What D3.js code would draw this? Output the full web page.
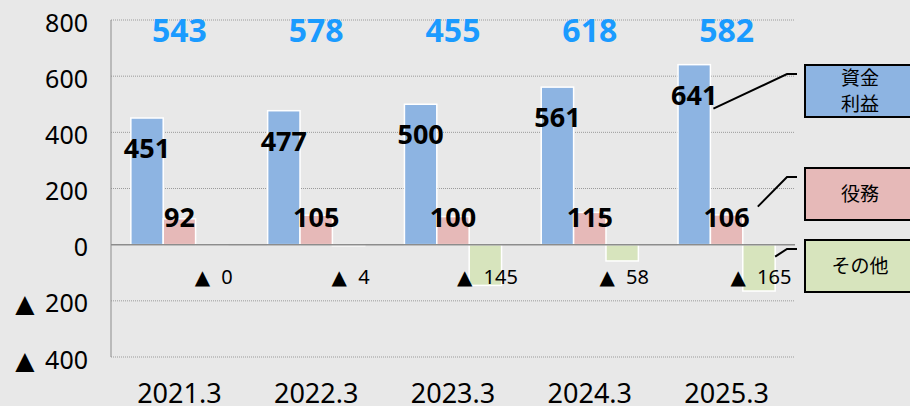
<!DOCTYPE html>
<html>
<head>
<meta charset="utf-8">
<script src="https://cdn.jsdelivr.net/npm/d3@7"></script>
<style>
  body { margin: 0; background: #e8e8e8; }
  svg { display: block; font-family: "Noto Sans", "DejaVu Sans", "Noto Sans CJK JP", sans-serif; }
</style>
</head>
<body>
<div id="chart"></div>
<script>
// data
const categories = ["2021.3", "2022.3", "2023.3", "2024.3", "2025.3"];
const shikinRieki = [451, 477, 500, 561, 641];   // 資金利益
const ekimu = [92, 105, 100, 115, 106];           // 役務
const sonota = [0, -4, -145, -58, -165];          // その他
const totals = [543, 578, 455, 618, 582];
const yTicks = [-400, -200, 0, 200, 400, 600, 800];
const seriesKeys = ["shikin", "ekimu", "sonota"];
const legendLabels = [["資金", "利益"], ["役務"], ["その他"]];
const colors = ["#8db4e2", "#e6b9b8", "#d7e4bd"];

let svgWidth = 910;
let svgHeight = 406;

let margin = { top: 20, right: 115, bottom: 49, left: 111 };
let chartWidth = svgWidth - margin.left - margin.right;
let chartHeight = svgHeight - margin.top - margin.bottom;

let svg = d3.select("#chart")
    .append("svg")
    .attr("width", svgWidth)
    .attr("height", svgHeight);

svg.append("rect")
    .attr("width", svgWidth)
    .attr("height", svgHeight)
    .attr("fill", "#e8e8e8");

let chartGroup = svg.append("g")
    .attr("transform", `translate(${margin.left}, ${margin.top})`);

// scales
let x0 = d3.scaleBand()
    .domain(categories)
    .range([0, chartWidth])
    .paddingInner(0.29)
    .paddingOuter(0.145);

let x1 = d3.scaleBand()
    .domain(seriesKeys)
    .range([0, x0.bandwidth()]);

let y = d3.scaleLinear()
    .domain([-400, 800])
    .range([chartHeight, 0]);

// write "▲ n" with the triangle from DejaVu Sans
function writeValue(sel, v, negStyle, gap) {
    sel.text(null);
    if (negStyle) {
        sel.append("tspan")
            .attr("font-family", "'DejaVu Sans', sans-serif")
            .text("▲");
        sel.append("tspan")
            .attr("dx", gap)
            .text("\u00a0" + Math.abs(v));
    } else {
        sel.text(v);
    }
}

// gridlines (dotted), skip zero
chartGroup.append("g")
    .selectAll("line")
    .data(yTicks.filter(d => d !== 0))
    .enter()
    .append("line")
    .attr("x1", 0)
    .attr("x2", chartWidth)
    .attr("y1", d => y(d))
    .attr("y2", d => y(d))
    .attr("stroke", "#9a9a9a")
    .attr("stroke-width", 1)
    .attr("stroke-dasharray", "1,1");

// left axis labels
let leftAxis = d3.axisLeft(y)
    .tickValues(yTicks)
    .tickSize(0)
    .tickPadding(23);

let yAxisG = chartGroup.append("g").call(leftAxis);
yAxisG.select(".domain").remove();
yAxisG.selectAll("text")
    .attr("font-size", 25)
    .attr("font-family", "'Noto Sans', 'DejaVu Sans', sans-serif")
    .attr("fill", "#000")
    .attr("dy", "0.44em")
    .each(function(d) { writeValue(d3.select(this), d, d < 0, 4); });

// vertical axis line
chartGroup.append("line")
    .attr("x1", 0).attr("x2", 0)
    .attr("y1", y(800)).attr("y2", y(-400))
    .attr("stroke", "#8c8c8c")
    .attr("stroke-width", 1);

// bottom category labels
let bottomAxis = d3.axisBottom(x0).tickSize(0).tickPadding(0);
let xAxisG = chartGroup.append("g")
    .attr("transform", `translate(0, ${y(-400)})`)
    .call(bottomAxis);
xAxisG.select(".domain").remove();
xAxisG.selectAll("text")
    .attr("font-size", 27)
    .attr("font-family", "'Noto Sans', 'DejaVu Sans', sans-serif")
    .attr("fill", "#000")
    .attr("dy", null)
    .attr("y", 46);

// bars
let rows = categories.map((c, i) => ({
    cat: c,
    vals: [
        { key: "shikin", v: shikinRieki[i], color: colors[0] },
        { key: "ekimu", v: ekimu[i], color: colors[1] },
        { key: "sonota", v: sonota[i], color: colors[2] }
    ],
    total: totals[i]
}));

let groups = chartGroup.selectAll(".grp")
    .data(rows)
    .enter()
    .append("g")
    .attr("class", "grp")
    .attr("transform", d => `translate(${x0(d.cat)}, 0)`);

groups.selectAll("rect")
    .data(d => d.vals)
    .enter()
    .append("rect")
    .attr("x", d => x1(d.key))
    .attr("width", x1.bandwidth())
    .attr("y", d => y(Math.max(0, d.v)))
    .attr("height", d => Math.max(0.01, Math.abs(y(d.v) - y(0))))
    .attr("fill", d => d.color)
    .attr("stroke", "#fff")
    .attr("stroke-width", 1.5);

// zero line
chartGroup.append("line")
    .attr("x1", 0).attr("x2", chartWidth)
    .attr("y1", y(0)).attr("y2", y(0))
    .attr("stroke", "#8c8c8c")
    .attr("stroke-width", 1.5);

// value labels
groups.append("text")
    .attr("x", x1("shikin") + x1.bandwidth() / 2)
    .attr("y", d => y(d.vals[0].v) + 40)
    .attr("text-anchor", "middle")
    .attr("font-size", 27)
    .attr("font-weight", "bold")
    .text(d => d.vals[0].v);

groups.append("text")
    .attr("x", x1("ekimu") + x1.bandwidth() / 2)
    .attr("y", y(0) - 18)
    .attr("text-anchor", "middle")
    .attr("font-size", 27)
    .attr("font-weight", "bold")
    .text(d => d.vals[1].v);

// その他 values are shown with ▲ (zero included)
groups.append("text")
    .attr("x", x1("sonota") + x1.bandwidth() / 2 + 2)
    .attr("y", y(0) + 39)
    .attr("text-anchor", "middle")
    .attr("font-size", 20)
    .each(function(d) { writeValue(d3.select(this), d.vals[2].v, true, 6); });

// totals
groups.append("text")
    .attr("x", x0.bandwidth() / 2)
    .attr("y", y(800) + 22)
    .attr("text-anchor", "middle")
    .attr("font-size", 32)
    .attr("font-weight", "bold")
    .attr("fill", "#1a9bff")
    .text(d => d.total);

// legend boxes with leader lines
let last = categories[categories.length - 1];
let gx = margin.left + x0(last);
let boxX = 805, boxW = 112, boxH = 52;
let boxTops = [65, 168, 240];
let lineStarts = [
    [gx + x1("shikin") + x1.bandwidth() + 3, margin.top + y(shikinRieki[4]) + 44],
    [gx + x1("ekimu") + x1.bandwidth() + 15, margin.top + y(0) - 38],
    [gx + x1("sonota") + x1.bandwidth(), margin.top + y(0) + 12]
];

legendLabels.forEach((lab, i) => {
    let top = boxTops[i];
    let [sx, sy] = lineStarts[i];
    svg.append("polyline")
        .attr("points", `${sx},${sy} ${787},${top + 9} ${797},${top + 9}`)
        .attr("fill", "none")
        .attr("stroke", "#000")
        .attr("stroke-width", 2);

    svg.append("rect")
        .attr("x", boxX)
        .attr("y", top)
        .attr("width", boxW)
        .attr("height", boxH)
        .attr("fill", colors[i])
        .attr("stroke", "#000")
        .attr("stroke-width", 2);

    let t = svg.append("text")
        .attr("x", 860)
        .attr("text-anchor", "middle")
        .attr("font-size", 19)
        .attr("font-family", "'Noto Sans CJK JP', sans-serif");
    let lh = 26;
    let y0 = top + boxH / 2 - (lab.length - 1) * lh / 2 + 7;
    lab.forEach((line, k) => {
        t.append("tspan")
            .attr("x", 860)
            .attr("y", y0 + k * lh)
            .text(line);
    });
});
</script>
</body>
</html>
